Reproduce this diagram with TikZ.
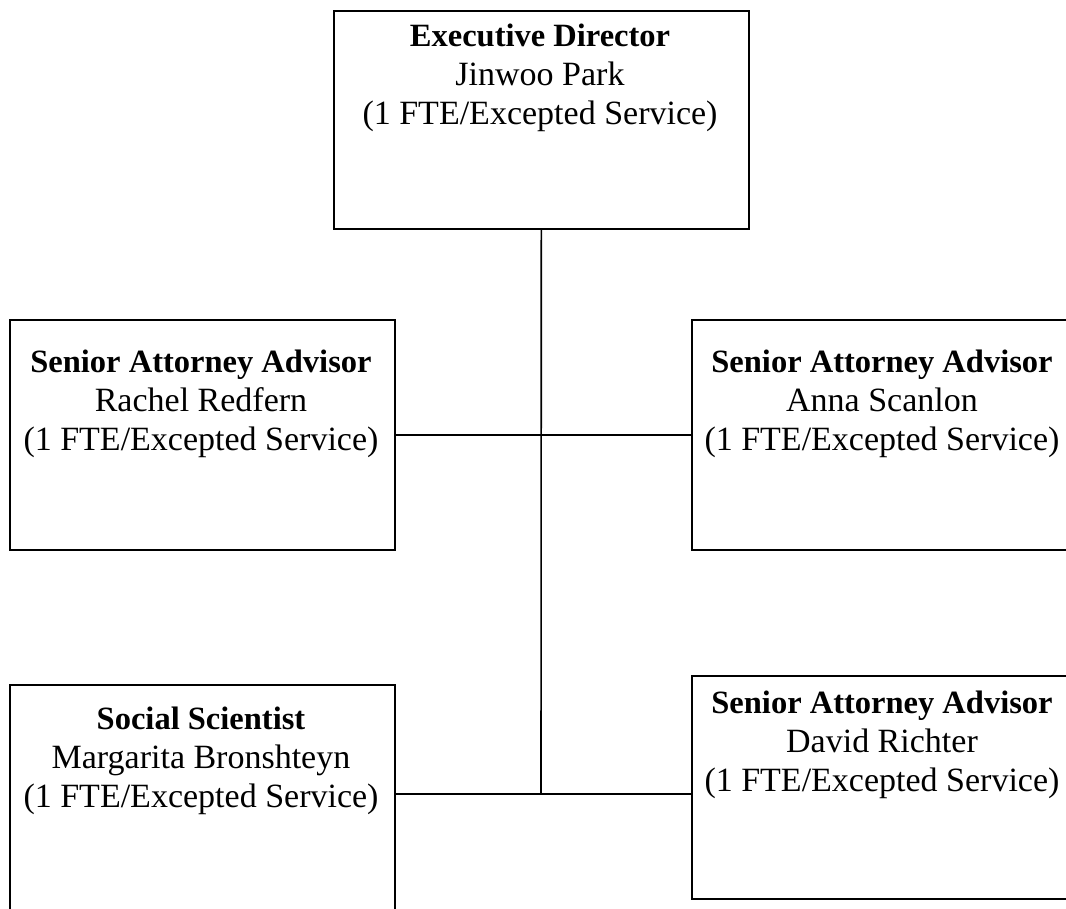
\documentclass[tikz,border=0pt]{standalone}
\usepackage{fontspec}
\setmainfont{Liberation Serif}
\newcommand\orgHead[1]{{\fontsize{32.5}{39}\selectfont\bfseries #1}}
\begin{document}
\begin{tikzpicture}[x=1pt,y=-1pt,
  box/.style={draw, line width=1.6pt, inner sep=0pt, anchor=north west},
  lbl/.style={align=center, anchor=north, inner sep=0pt, font=\fontsize{34}{39}\selectfont},
  link/.style={line width=1.6pt}]
\useasboundingbox (0,0) rectangle (1066,909);
\clip (0,0) rectangle (1066,909);
% boxes
\node[box, minimum width=415pt, minimum height=218pt] (exec) at (333,10) {};
\node[box, minimum width=385pt, minimum height=230pt] (rr) at (9,319) {};
\node[box, minimum width=390pt, minimum height=230pt] (as) at (691,319) {};
\node[box, minimum width=385pt, minimum height=240pt] (mb) at (9,684) {};
\node[box, minimum width=390pt, minimum height=223pt] (dr) at (691,675) {};
% texts
\node[lbl] (execT) at (540,24) {\orgHead{Executive Director}\\Jinwoo Park\\(1 FTE/Excepted Service)};
\node[lbl] (rrT) at (201,350) {\orgHead{Senior Attorney Advisor}\\Rachel Redfern\\(1 FTE/Excepted Service)};
\node[lbl] (asT) at (882,350) {\orgHead{Senior Attorney Advisor}\\Anna Scanlon\\(1 FTE/Excepted Service)};
\node[lbl] (mbT) at (201,707) {\orgHead{Social Scientist}\\Margarita Bronshteyn\\(1 FTE/Excepted Service)};
\node[lbl] (drT) at (882,691) {\orgHead{Senior Attorney Advisor}\\David Richter\\(1 FTE/Excepted Service)};
% connectors
\coordinate (j2) at (541,794);
\draw[link] (exec.south) -- (j2);
\draw[link] (rr.east) -- (as.west);
\draw[link] (mb.east |- j2) -- (dr.west |- j2);
\end{tikzpicture}
\end{document}
